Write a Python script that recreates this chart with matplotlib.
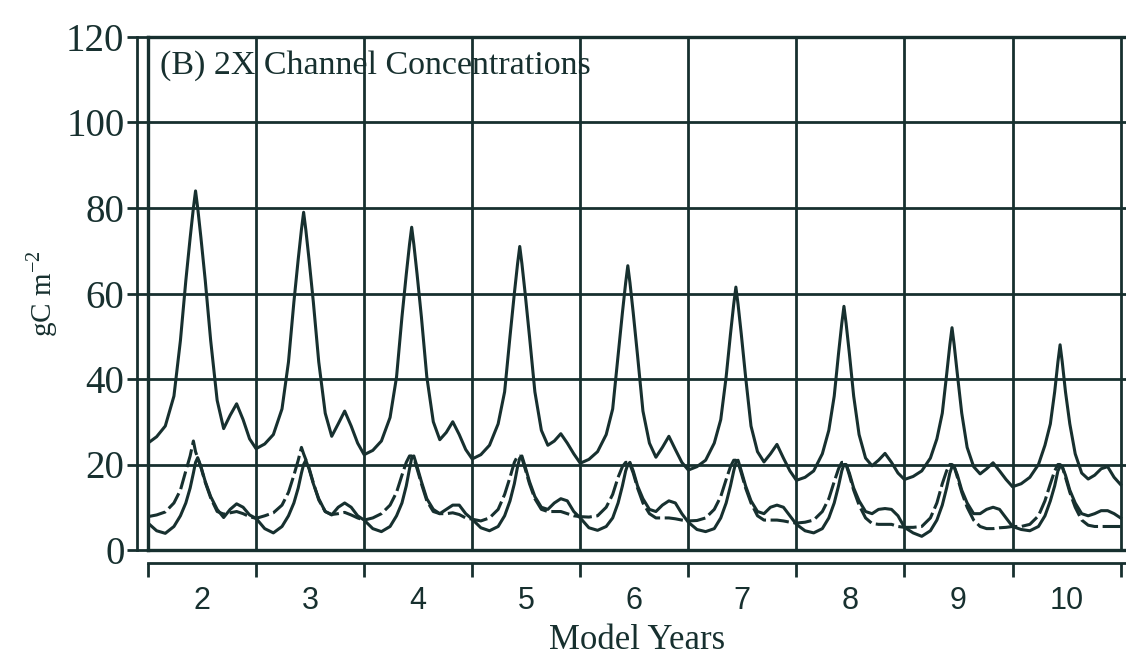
import numpy as np
import matplotlib
matplotlib.use("Agg")
from matplotlib import pyplot as plt

# ---- data (values relative to the local grid) ----
model_years = [2, 3, 4, 5, 6, 7, 8, 9, 10]

# sampling points inside each model year (fraction of the year)
phase = [0.00, 0.08, 0.16, 0.24, 0.30, 0.35, 0.39, 0.42, 0.44, 0.46,
         0.49, 0.53, 0.58, 0.64, 0.70, 0.76, 0.82, 0.88, 0.94]

# upper solid curve, one row per model year
upper = [
    [25.0, 26.5, 29.0, 36.0, 49.0, 63.0, 73.0, 80.0, 84.0, 80.0, 73.0, 63.0, 49.0, 35.0, 28.4, 31.5, 34.2, 30.5, 26.0],
    [23.7, 24.8, 27.0, 33.0, 44.0, 58.0, 68.0, 75.0, 79.0, 75.0, 68.0, 58.0, 44.0, 32.0, 26.6, 29.5, 32.5, 29.0, 25.0],
    [22.3, 23.3, 25.5, 31.0, 40.5, 54.5, 64.5, 71.5, 75.5, 71.5, 64.5, 54.5, 40.5, 30.0, 25.8, 27.5, 30.0, 27.0, 23.5],
    [21.3, 22.3, 24.5, 29.5, 37.0, 50.0, 60.0, 67.0, 71.0, 67.0, 60.0, 50.0, 37.0, 28.0, 24.5, 25.5, 27.2, 25.0, 22.5],
    [20.3, 21.2, 23.0, 27.0, 33.0, 45.5, 55.5, 62.5, 66.5, 62.5, 55.5, 45.5, 32.5, 25.0, 21.7, 24.0, 26.6, 23.5, 20.5],
    [18.7, 19.5, 21.0, 25.0, 30.5, 40.5, 50.5, 57.5, 61.5, 57.5, 50.5, 40.5, 29.0, 23.0, 20.6, 22.5, 24.7, 21.5, 18.5],
    [16.3, 17.0, 18.5, 22.5, 28.0, 36.0, 46.0, 53.0, 57.0, 53.0, 46.0, 36.0, 27.0, 21.5, 19.7, 21.0, 22.6, 20.5, 18.0],
    [16.5, 17.2, 18.5, 21.5, 26.0, 32.0, 41.0, 48.0, 52.0, 48.0, 41.0, 32.0, 24.0, 19.5, 17.8, 19.0, 20.4, 18.5, 16.5],
    [14.8, 15.5, 17.0, 20.0, 24.5, 29.5, 37.0, 44.0, 48.0, 44.0, 37.0, 29.5, 22.5, 18.0, 16.6, 17.5, 19.0, 19.5, 17.0],
]
upper_end = 15.3

# lower solid curve
lower = [
    [6.3, 4.5, 3.9, 5.5, 8.0, 11.0, 14.5, 18.0, 20.5, 21.6, 19.5, 16.0, 12.5, 9.5, 7.6, 9.5, 10.8, 10.0, 8.2],
    [7.4, 5.0, 4.0, 5.5, 8.0, 11.0, 14.5, 18.0, 20.0, 21.0, 19.0, 15.5, 12.0, 9.0, 8.2, 10.0, 11.0, 10.0, 8.0],
    [7.0, 5.0, 4.3, 5.5, 8.0, 11.0, 15.0, 19.0, 21.5, 22.0, 19.5, 16.0, 12.0, 9.5, 8.5, 9.5, 10.5, 10.5, 8.5],
    [7.2, 5.2, 4.5, 5.5, 8.0, 11.5, 15.5, 19.5, 21.5, 22.0, 19.5, 16.0, 12.5, 10.0, 9.5, 11.0, 12.0, 11.5, 9.0],
    [7.5, 5.2, 4.6, 5.5, 7.5, 11.0, 15.0, 18.5, 20.0, 20.5, 18.5, 15.0, 12.0, 9.5, 9.0, 10.5, 11.5, 11.0, 8.5],
    [6.5, 4.8, 4.3, 5.0, 7.5, 11.0, 15.0, 18.5, 20.5, 21.0, 18.5, 15.0, 11.5, 9.0, 8.5, 10.0, 10.5, 10.0, 8.0],
    [6.0, 4.5, 4.0, 5.0, 7.5, 11.0, 15.0, 18.5, 20.0, 20.0, 18.0, 14.5, 11.5, 9.0, 8.5, 9.5, 9.7, 9.5, 8.0],
    [5.3, 4.0, 3.2, 4.5, 7.0, 10.5, 14.5, 18.0, 19.5, 19.5, 17.5, 14.0, 11.0, 8.5, 8.5, 9.5, 10.0, 9.5, 7.5],
    [5.5, 4.8, 4.5, 5.5, 8.0, 11.5, 15.0, 18.5, 19.5, 19.5, 17.5, 14.0, 11.0, 8.5, 8.0, 8.5, 9.2, 9.2, 8.5],
]
lower_end = 7.5

# dashed curve
dashed = [
    [7.8, 8.2, 8.9, 11.0, 14.0, 18.5, 22.0, 25.5, 23.0, 21.5, 19.3, 15.8, 12.2, 9.0, 8.4, 8.7, 9.0, 8.5, 7.8],
    [7.4, 8.0, 8.7, 10.5, 13.5, 17.5, 21.0, 24.0, 22.5, 21.2, 19.2, 15.7, 11.7, 9.0, 8.3, 8.5, 8.8, 8.2, 7.5],
    [7.0, 7.5, 8.5, 10.5, 13.5, 17.5, 20.5, 22.0, 22.0, 21.5, 19.0, 15.5, 11.5, 9.0, 8.5, 8.5, 8.7, 8.3, 7.5],
    [7.2, 6.8, 7.5, 9.5, 13.0, 17.0, 20.5, 22.0, 22.0, 21.5, 19.0, 15.5, 12.0, 9.5, 9.0, 9.0, 9.0, 8.5, 8.0],
    [7.8, 7.7, 8.0, 10.0, 13.0, 17.0, 19.5, 20.5, 20.5, 20.0, 18.0, 14.5, 11.0, 8.5, 7.5, 7.5, 7.5, 7.3, 7.0],
    [6.8, 6.9, 7.5, 9.5, 12.5, 16.5, 19.5, 21.0, 21.0, 20.5, 18.0, 14.5, 11.0, 8.0, 7.0, 7.0, 7.0, 6.8, 6.5],
    [6.3, 6.5, 7.0, 9.0, 12.0, 16.0, 19.0, 20.5, 20.5, 20.0, 17.5, 14.0, 10.5, 7.5, 6.2, 6.0, 6.0, 6.0, 5.5],
    [5.3, 5.3, 5.5, 7.5, 11.0, 15.5, 18.5, 20.0, 20.0, 19.5, 17.0, 13.5, 10.0, 7.0, 5.5, 5.0, 5.0, 5.2, 5.3],
    [5.5, 5.5, 6.0, 8.0, 11.5, 15.5, 18.5, 20.0, 20.0, 19.5, 17.0, 13.5, 10.0, 7.0, 5.8, 5.5, 5.5, 5.5, 5.5],
]
dashed_end = 5.5

y_ticks = [0, 20, 40, 60, 80, 100, 120]

# ---- assemble time axis ----
t = np.concatenate([yr + np.array(phase) for yr in model_years] + [[model_years[-1] + 1]])
y_upper = np.concatenate([np.array(r) for r in upper] + [[upper_end]])
y_lower = np.concatenate([np.array(r) for r in lower] + [[lower_end]])
y_dashed = np.concatenate([np.array(r) for r in dashed] + [[dashed_end]])

ink = "#17302f"
plt.rcParams["font.family"] = ["Liberation Serif", "DejaVu Serif"]

fig = plt.figure(figsize=(11.26, 6.6), dpi=100)
ax = fig.add_axes([148 / 1126, 1 - 550 / 660, 978 / 1126, 513 / 660])

ax.plot(t, y_upper, color=ink, lw=2.2)
ax.plot(t, y_lower, color=ink, lw=2.2)
ax.plot(t, y_dashed, color=ink, lw=2.2, ls=(0, (6, 1.5)))

ax.set_xlim(2, 11.05)
ax.set_ylim(0, 120)

# grid doubles as the frame
ax.set_yticks(y_ticks)
ax.set_xticks(range(2, 12))
ax.set_xticks([y + 0.5 for y in model_years], minor=True)
ax.set_xticklabels([])
ax.set_xticklabels([str(y) for y in model_years], minor=True)
ax.grid(True, which="major", color=ink, lw=2.0)
for yv in (0, 120):
    ax.axhline(yv, color=ink, lw=2.4, clip_on=False)
ax.axvline(2, color=ink, lw=2.4, clip_on=False)

for s in ("top", "right"):
    ax.spines[s].set_visible(False)
ax.spines["left"].set_position(("outward", 8))
ax.spines["bottom"].set_position(("outward", 9))
ax.spines["left"].set_color(ink)
ax.spines["bottom"].set_color(ink)
ax.spines["left"].set_linewidth(2.0)
ax.spines["bottom"].set_linewidth(2.0)

ax.tick_params(axis="y", which="major", direction="inout", length=14, width=2.0,
               color=ink, labelcolor=ink, labelsize=28, pad=2)
ax.tick_params(axis="x", which="major", direction="out", length=10, width=2.0, color=ink)
ax.tick_params(axis="x", which="minor", length=0, pad=17, labelsize=22, labelcolor=ink)
# year numbers are set in a sans face in the original
for lbl in ax.get_xticklabels(minor=True):
    lbl.set_fontfamily(["Liberation Sans", "DejaVu Sans"])

ax.set_xlabel("Model Years", fontsize=25, color=ink, labelpad=6)
ax.set_ylabel("gC m$^{\\mathregular{-2}}$", fontsize=21, color=ink, labelpad=4)

ax.text(0.012, 0.975, "(B) 2X Channel Concentrations", transform=ax.transAxes,
        ha="left", va="top", fontsize=24.5, color=ink)

fig.savefig("out.png", dpi=100)
